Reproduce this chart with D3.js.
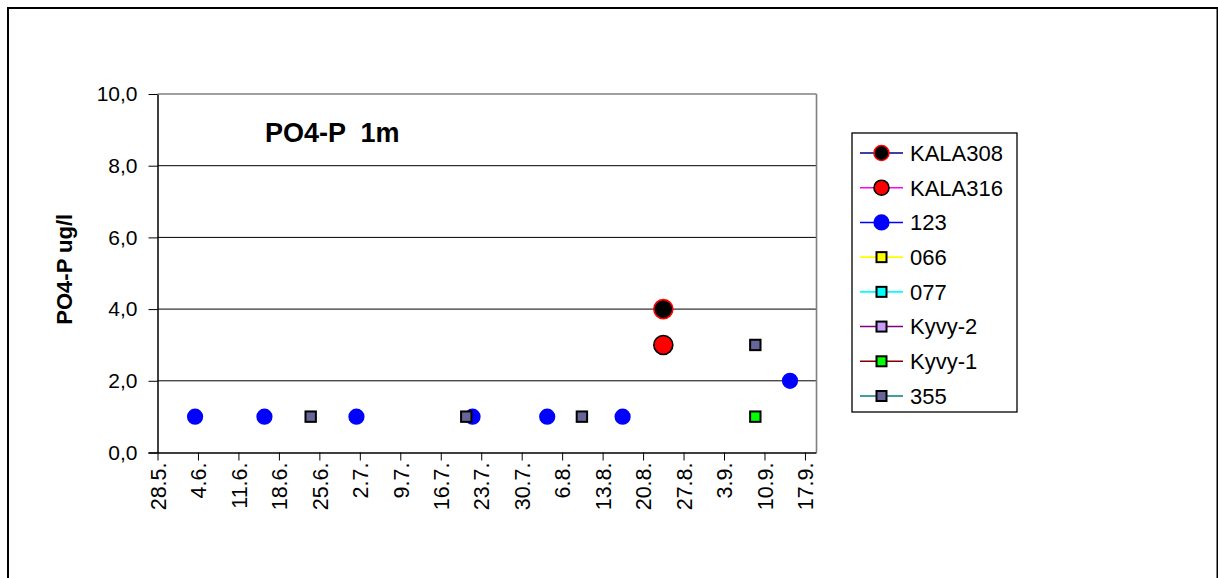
<!DOCTYPE html>
<html>
<head>
<meta charset="utf-8">
<script src="https://cdn.jsdelivr.net/npm/d3@7"></script>
<style>
  html, body { margin: 0; padding: 0; background: #fff; }
  svg { display: block; font-family: "Liberation Sans", Arial, sans-serif; }
</style>
</head>
<body>
<svg id="chart" width="1218" height="578"></svg>
<script>
// ---- data -------------------------------------------------------------
const xTickLabels = ["28.5.", "4.6.", "11.6.", "18.6.", "25.6.", "2.7.", "9.7.", "16.7.",
  "23.7.", "30.7.", "6.8.", "13.8.", "20.8.", "27.8.", "3.9.", "10.9.", "17.9."];
const yTicks = [0, 2, 4, 6, 8, 10];

const seriesNames = ["KALA308", "KALA316", "123", "066", "077", "Kyvy-2", "Kyvy-1", "355"];

// sampling times (day.month. hour) and PO4-P values, one pair of arrays per station
const kala308Dates = ["23.8. 12"];
const kala308Values = [4.0];
const kala316Dates = ["23.8. 12"];
const kala316Values = [3.0];
const s123Dates = ["3.6. 12", "15.6. 12", "1.7. 10", "21.7. 12", "3.8. 10", "16.8. 11", "14.9. 10"];
const s123Values = [1.0, 1.0, 1.0, 1.0, 1.0, 1.0, 2.0];
const s066Dates = [];
const s066Values = [];
const s077Dates = [];
const s077Values = [];
const kyvy2Dates = [];
const kyvy2Values = [];
const kyvy1Dates = ["8.9. 10"];
const kyvy1Values = [1.0];
const s355Dates = ["23.6. 12", "20.7. 10", "9.8. 10", "8.9. 10"];
const s355Values = [1.0, 1.0, 1.0, 3.0];

const year = 2005;
const xStartLabel = "28.5.";
const xEndLabel = "19.9.";

// ---- helpers ----------------------------------------------------------
const parseDay = d3.utcParse("%d.%m.%Y");
const parseTime = d3.utcParse("%d.%m.%Y %H");
const dayOf = s => parseDay(s + year);
const timeOf = s => { const [d, h] = s.split(" "); return parseTime(d + year + " " + h); };
const numFmt = d3.formatLocale({ decimal: ",", thousands: " ", grouping: [3], currency: ["", ""] }).format(".1f");

const seriesData = [
  { name: "KALA308", dates: kala308Dates, values: kala308Values },
  { name: "KALA316", dates: kala316Dates, values: kala316Values },
  { name: "123", dates: s123Dates, values: s123Values },
  { name: "066", dates: s066Dates, values: s066Values },
  { name: "077", dates: s077Dates, values: s077Values },
  { name: "Kyvy-2", dates: kyvy2Dates, values: kyvy2Values },
  { name: "Kyvy-1", dates: kyvy1Dates, values: kyvy1Values },
  { name: "355", dates: s355Dates, values: s355Values }
].map(s => ({ name: s.name, points: s.dates.map((d, i) => ({ t: timeOf(d), v: s.values[i] })) }));

// ---- styling per series -------------------------------------------------
const styles = {
  "KALA308": { shape: "circle", r: 9.5, fill: "#000000", stroke: "#ff0000", line: "#000080", lr: 7.5 },
  "KALA316": { shape: "circle", r: 9.5, fill: "#ff0000", stroke: "#000000", line: "#ff00ff", lr: 7.5 },
  "123":     { shape: "circle", r: 7.3, fill: "#0000ff", stroke: "#0000ff", line: "#0000ff", lr: 7.3 },
  "066":     { shape: "square", r: 5.2, fill: "#ffff00", stroke: "#000000", line: "#ffff00", lr: 5 },
  "077":     { shape: "square", r: 5.2, fill: "#00ffff", stroke: "#000000", line: "#00ffff", lr: 5 },
  "Kyvy-2":  { shape: "square", r: 5.2, fill: "#cc99ff", stroke: "#000000", line: "#800080", lr: 5 },
  "Kyvy-1":  { shape: "square", r: 5.2, fill: "#00ff00", stroke: "#000000", line: "#800000", lr: 5 },
  "355":     { shape: "square", r: 5.2, fill: "#666699", stroke: "#000000", line: "#008080", lr: 5 }
};

// ---- layout -------------------------------------------------------------
const svg = d3.select("#chart");
const plot = { left: 157.5, right: 816.5, top: 94, bottom: 452.5 };

// outer frame
svg.append("rect")
  .attr("x", 8).attr("y", 8).attr("width", 1209.5).attr("height", 600)
  .attr("fill", "none").attr("stroke", "#000").attr("stroke-width", 2);

const x = d3.scaleUtc()
  .domain([dayOf(xStartLabel), dayOf(xEndLabel)])
  .range([plot.left, plot.right]);
const y = d3.scaleLinear()
  .domain([0, 10])
  .range([plot.bottom, plot.top]);

// horizontal gridlines
svg.append("g")
  .selectAll("line")
  .data(yTicks.filter(v => v > 0))
  .join("line")
  .attr("x1", plot.left).attr("x2", plot.right)
  .attr("y1", d => y(d)).attr("y2", d => y(d))
  .attr("stroke", d => d === 10 ? "#808080" : "#000")
  .attr("stroke-width", d => d === 10 ? 1.6 : 1);

// plot area right border
svg.append("line")
  .attr("x1", plot.right).attr("x2", plot.right)
  .attr("y1", plot.top).attr("y2", plot.bottom)
  .attr("stroke", "#808080").attr("stroke-width", 1.6);

// y axis
const yAxis = d3.axisLeft(y)
  .tickValues(yTicks)
  .tickFormat(numFmt)
  .tickSizeInner(9)
  .tickSizeOuter(0)
  .tickPadding(11);
const gy = svg.append("g").attr("transform", `translate(${plot.left},0)`).call(yAxis);
gy.select(".domain").attr("stroke", "#000").attr("stroke-width", 1.5);
gy.selectAll(".tick line").attr("stroke", "#000");
gy.selectAll(".tick text")
  .attr("font-family", "Liberation Sans, Arial, sans-serif")
  .attr("font-size", 21).attr("fill", "#000");

// x axis
const xTickDates = xTickLabels.map(dayOf);
const xAxis = d3.axisBottom(x)
  .tickValues(xTickDates)
  .tickFormat((d, i) => xTickLabels[i])
  .tickSizeInner(8)
  .tickSizeOuter(0);
const gx = svg.append("g").attr("transform", `translate(0,${plot.bottom})`).call(xAxis);
gx.select(".domain").attr("stroke", "#000").attr("stroke-width", 1.5)
  .attr("d", `M${plot.left - 9},0.5H${plot.right}`);
gx.selectAll(".tick line").attr("stroke", "#000");
gx.selectAll(".tick text")
  .attr("font-family", "Liberation Sans, Arial, sans-serif")
  .attr("font-size", 21.5).attr("fill", "#000")
  .attr("text-anchor", "end")
  .attr("transform", "rotate(-90)")
  .attr("x", -10).attr("y", 0).attr("dy", "0.36em");

// chart title
svg.append("text")
  .attr("x", 265).attr("y", 141.5)
  .attr("font-size", 27).attr("font-weight", "bold")
  .attr("xml:space", "preserve")
  .style("white-space", "pre")
  .text("PO4-P  1m");

// y axis title
svg.append("text")
  .attr("transform", `translate(72,${(plot.top + plot.bottom) / 2 - 4}) rotate(-90)`)
  .attr("text-anchor", "middle")
  .attr("font-size", 22).attr("font-weight", "bold")
  .text("PO4-P ug/l");

// markers
function drawMarker(sel, st, r) {
  if (st.shape === "circle") {
    sel.append("circle").attr("r", r)
      .attr("fill", st.fill).attr("stroke", st.stroke).attr("stroke-width", 1.6);
  } else {
    sel.append("rect").attr("x", -r).attr("y", -r).attr("width", 2 * r).attr("height", 2 * r)
      .attr("fill", st.fill).attr("stroke", st.stroke).attr("stroke-width", 2);
  }
}

const marks = svg.append("g");
seriesData.forEach(s => {
  const st = styles[s.name];
  marks.append("g")
    .selectAll("g")
    .data(s.points)
    .join("g")
    .attr("transform", d => `translate(${x(d.t)},${y(d.v)})`)
    .each(function () { drawMarker(d3.select(this), st, st.r); });
});

// legend
const legend = { x: 852, y: 133, w: 165, h: 279 };
svg.append("rect")
  .attr("x", legend.x).attr("y", legend.y).attr("width", legend.w).attr("height", legend.h)
  .attr("fill", "#fff").attr("stroke", "#000").attr("stroke-width", 1.3);

const rowY = d3.scalePoint().domain(seriesNames).range([153, 396]);
const items = svg.append("g").selectAll("g")
  .data(seriesNames)
  .join("g")
  .attr("transform", d => `translate(0,${rowY(d)})`);
items.append("line")
  .attr("x1", 860).attr("x2", 903)
  .attr("stroke", d => styles[d].line).attr("stroke-width", 1.6);
items.append("g")
  .attr("transform", "translate(881.5,0)")
  .each(function (d) { drawMarker(d3.select(this), styles[d], styles[d].lr); });
items.append("text")
  .attr("x", 910).attr("dy", "0.36em")
  .attr("font-size", 22).attr("fill", "#000")
  .text(d => d);
</script>
</body>
</html>
